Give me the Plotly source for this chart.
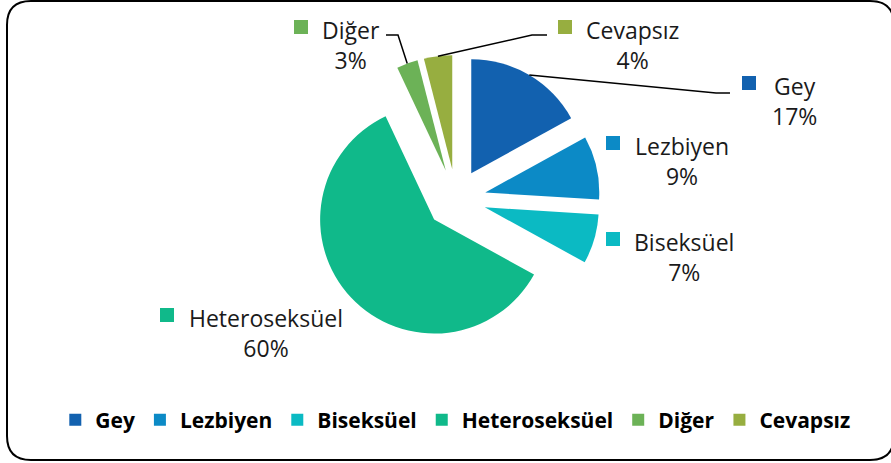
import math
import plotly.graph_objects as go

# ---------------- data ----------------
categories = ["Gey", "Lezbiyen", "Biseksüel", "Heteroseksüel", "Diğer", "Cevapsız"]
values = [17, 9, 7, 60, 3, 4]
colors = ["#1261AF", "#0C8AC6", "#0BBAC3", "#10B98A", "#6CB257", "#97AE40"]

# ---------------- layout constants (pixels) ----------------
W, H = 891, 463
PULL = 0.263
CX, CY, R = 456, 199, 114
FONT = "Open Sans"

# label block: text centre x, block middle y, key square centre x, key square centre y
label_pos = {
    "Gey": (794, 101, 749, 83),
    "Lezbiyen": (682, 161, 613, 143),
    "Biseksüel": (684, 257, 613, 239),
    "Heteroseksüel": (266, 333, 167, 315),
    "Diğer": (351, 45, 301, 27),
    "Cevapsız": (632, 45, 565, 27),
}
# leader lines: elbow and end points (pixels); start computed from the slice
leaders = {
    "Gey": [(716, 93), (730, 93)],
    "Diğer": [(398, 35), (386, 35)],
    "Cevapsız": [(532, 35), (547, 35)],
}


def px(x):
    return x / W


def py(y):
    return 1 - y / H


half = R * (1 + PULL)
dom_x = [px(CX - half), px(CX + half)]
dom_y = [py(CY + half), py(CY - half)]

fig = go.Figure(
    go.Pie(
        labels=categories,
        values=values,
        marker=dict(colors=colors, line=dict(width=0)),
        sort=False,
        direction="clockwise",
        rotation=0,
        pull=PULL,
        textinfo="none",
        domain=dict(x=dom_x, y=dom_y),
        hoverinfo="label+percent",
    )
)

shapes = []
annotations = []

# slice mid angles (clockwise from 12 o'clock)
total = sum(values)
cum = 0
mid_angle = {}
for c, v in zip(categories, values):
    mid_angle[c] = (cum + v / 2) / total * 2 * math.pi
    cum += v

for c, v, col in zip(categories, values, colors):
    tx, ty, sx, sy = label_pos[c]
    annotations.append(dict(
        x=px(tx), y=py(ty), xref="paper", yref="paper",
        xanchor="center", yanchor="middle", showarrow=False,
        text=f"{c}<br>{round(v / total * 100)}%",
        font=dict(family=FONT, size=23, color="#1a1a1a"),
        align="center",
    ))
    shapes.append(dict(
        type="rect", xref="paper", yref="paper",
        xsizemode="pixel", ysizemode="pixel",
        xanchor=px(sx), yanchor=py(sy),
        x0=-7, x1=7, y0=-7, y1=7,
        fillcolor=col, line=dict(width=0),
    ))
    if c in leaders:
        a = mid_angle[c]
        d = R * (1 + PULL)
        x0 = CX + d * math.sin(a)
        y0 = CY - d * math.cos(a)
        pts = [(x0, y0)] + leaders[c]
        path = "M " + " L ".join(f"{px(x):.5f},{py(y):.5f}" for x, y in pts)
        shapes.append(dict(type="path", xref="paper", yref="paper", path=path,
                           line=dict(color="black", width=1.5)))

# rounded chart border
L_, T_, R_, B_, rr = 7, 1, 894, 460, 24
border = (
    f"M {px(L_ + rr)},{py(T_)} L {px(R_ - rr)},{py(T_)} "
    f"Q {px(R_)},{py(T_)} {px(R_)},{py(T_ + rr)} "
    f"L {px(R_)},{py(B_ - rr)} Q {px(R_)},{py(B_)} {px(R_ - rr)},{py(B_)} "
    f"L {px(L_ + rr)},{py(B_)} Q {px(L_)},{py(B_)} {px(L_)},{py(B_ - rr)} "
    f"L {px(L_)},{py(T_ + rr)} Q {px(L_)},{py(T_)} {px(L_ + rr)},{py(T_)} Z"
)
shapes.append(dict(type="path", xref="paper", yref="paper", path=border,
                   line=dict(color="black", width=2)))

fig.update_layout(
    width=W, height=H,
    margin=dict(l=0, r=0, t=0, b=0),
    paper_bgcolor="white",
    plot_bgcolor="white",
    showlegend=True,
    legend=dict(
        orientation="h", x=0.511, xanchor="center", y=py(420), yanchor="middle",
        font=dict(family=FONT, size=21, color="black", weight="bold"),
        itemclick=False, itemdoubleclick=False,
    ),
    shapes=shapes,
    annotations=annotations,
)

fig.write_html(
    "out.html",
    config={"displayModeBar": False},
    post_script="document.body.style.margin='0';document.body.style.overflow='hidden';",
)
